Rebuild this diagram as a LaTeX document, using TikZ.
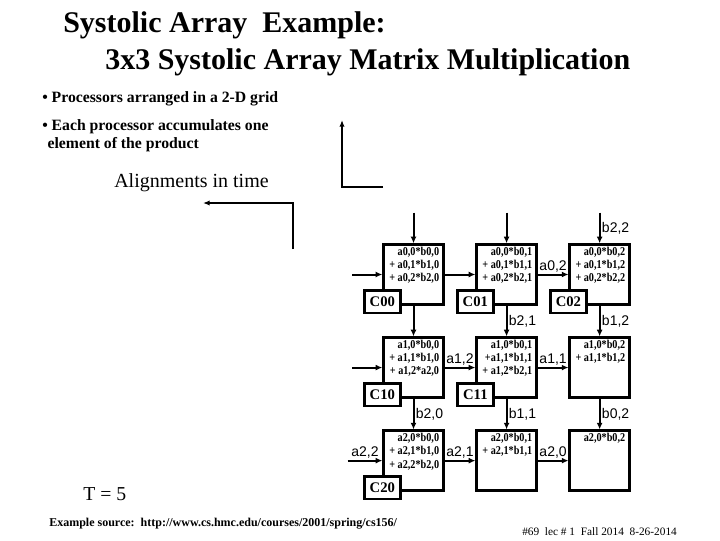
\documentclass[tikz,border=0pt]{standalone}
\usepackage{fontspec}
\setmainfont{Liberation Serif}
\setsansfont{Liberation Sans}
\newfontfamily\narrowserif[FakeStretch=0.85]{Liberation Serif}
\usepackage{tikz}
\usetikzlibrary{arrows.meta, positioning}
\tikzset{
  ttl/.style={anchor=base west, inner sep=0pt, font=\bfseries\fontsize{22.5}{27}\selectfont},
  bul/.style={anchor=base west, inner sep=0pt, align=left, font=\bfseries\fontsize{11.8}{12.75}\selectfont},
  note/.style={anchor=base west, inner sep=0pt},
  proc/.style={rectangle, draw, line width=1.8pt, minimum width=45pt, minimum height=45pt, inner sep=0pt},
  fml/.style={align=right, inner sep=0.5pt, font=\narrowserif\bfseries\fontsize{9}{10}\selectfont},
  cbox/.style={rectangle, draw, fill=white, line width=1.8pt, minimum width=27pt, minimum height=17pt, inner sep=1pt, font=\bfseries\fontsize{11}{11}\selectfont},
  lbl/.style={inner sep=1pt, font=\sffamily\fontsize{10.5}{10.5}\selectfont},
  arr/.style={-{Latex[length=5pt, width=4.5pt]}, line width=1.5pt},
  elbow/.style={-{Latex[length=5pt, width=4pt]}, line width=1.6pt},
}

\begin{document}
\begin{tikzpicture}[x=0.75pt, y=-0.75pt, node distance=23pt]
  \useasboundingbox (0,0) rectangle (720,540);

  % heading and bullets
  \node[ttl] (ttl1) at (63,32) {Systolic Array\ \ Example:};
  \node[ttl] (ttl2) at (105,69) {3x3 Systolic Array Matrix Multiplication};
  \node[bul] (bul1) at (42,102) {\textbullet\ Processors arranged in a 2-D grid};
  \node[bul, anchor=north west] (bul2) at (42,119) {\textbullet\ Each processor accumulates one\\[1pt]\hspace*{4pt}element of the product};
  \node[note, font=\fontsize{15}{15}\selectfont] (align) at (114,187) {Alignments in time};

  % alignment arrows
  \coordinate (u1) at (383,187);
  \coordinate (u2) at (342,187);
  \coordinate (u3) at (342,120);
  \draw[elbow] (u1) -- (u2) -- (u3);
  \coordinate (v1) at (293,249);
  \coordinate (v2) at (293,203);
  \coordinate (v3) at (203,203);
  \draw[elbow] (v1) -- (v2) -- (v3);

  % processor grid
  \node[proc] (p00) at (413.5,274.5) {};
  \node[proc, right=of p00] (p01) {};
  \node[proc, right=of p01] (p02) {};
  \node[proc, below=of p00] (p10) {};
  \node[proc, right=of p10] (p11) {};
  \node[proc, right=of p11] (p12) {};
  \node[proc, below=of p10] (p20) {};
  \node[proc, right=of p20] (p21) {};
  \node[proc, right=of p21] (p22) {};

  % partial sums
  \node[fml, below left=2pt and 3.5pt of p00.north east] (f00) {a0,0*b0,0\\+ a0,1*b1,0\\+ a0,2*b2,0};
  \node[fml, below left=2pt and 3.5pt of p01.north east] (f01) {a0,0*b0,1\\+ a0,1*b1,1\\+ a0,2*b2,1};
  \node[fml, below left=2pt and 3.5pt of p02.north east] (f02) {a0,0*b0,2\\+ a0,1*b1,2\\+ a0,2*b2,2};
  \node[fml, below left=2pt and 3.5pt of p10.north east] (f10) {a1,0*b0,0\\+ a1,1*b1,0\\+ a1,2*a2,0};
  \node[fml, below left=2pt and 3.5pt of p11.north east] (f11) {a1,0*b0,1\\+a1,1*b1,1\\+ a1,2*b2,1};
  \node[fml, below left=2pt and 3.5pt of p12.north east] (f12) {a1,0*b0,2\\+ a1,1*b1,2};
  \node[fml, below left=2pt and 3.5pt of p20.north east] (f20) {a2,0*b0,0\\+ a2,1*b1,0\\+ a2,2*b2,0};
  \node[fml, below left=2pt and 3.5pt of p21.north east] (f21) {a2,0*b0,1\\+ a2,1*b1,1};
  \node[fml, below left=2pt and 3.5pt of p22.north east] (f22) {a2,0*b0,2};

  % inputs from top and left
  \coordinate[above=23pt of p00] (t0);
  \coordinate[above=23pt of p01] (t1);
  \coordinate[above=23pt of p02] (t2);
  \coordinate[left=22.5pt of p00] (l0);
  \coordinate[left=22.5pt of p10] (l1);
  \coordinate[left=26pt of p20] (l2);
  \draw[arr] (t0) -- (p00);
  \draw[arr] (t1) -- (p01);
  \draw[arr] (t2) -- node[lbl, right] {b2,2} (p02);
  \draw[arr] (l0) -- (p00);
  \draw[arr] (l1) -- (p10);
  \draw[arr] (l2) -- node[lbl, above] {a2,2} (p20);

  % a values moving right
  \draw[arr] (p00) -- (p01);
  \draw[arr] (p01) -- node[lbl, above] {a0,2} (p02);
  \draw[arr] (p10) -- node[lbl, above] {a1,2} (p11);
  \draw[arr] (p11) -- node[lbl, above] {a1,1} (p12);
  \draw[arr] (p20) -- node[lbl, above] {a2,1} (p21);
  \draw[arr] (p21) -- node[lbl, above] {a2,0} (p22);

  % b values moving down
  \draw[arr] (p00) -- (p10);
  \draw[arr] (p01) -- node[lbl, right] {b2,1} (p11);
  \draw[arr] (p02) -- node[lbl, right] {b1,2} (p12);
  \draw[arr] (p10) -- node[lbl, right] {b2,0} (p20);
  \draw[arr] (p11) -- node[lbl, right] {b1,1} (p21);
  \draw[arr] (p12) -- node[lbl, right] {b0,2} (p22);

  % result tags
  \node[cbox] (c00) at ([yshift=3pt]p00.south west) {C00};
  \node[cbox] (c01) at ([yshift=3pt]p01.south west) {C01};
  \node[cbox] (c02) at ([yshift=3pt]p02.south west) {C02};
  \node[cbox] (c10) at ([yshift=3pt]p10.south west) {C10};
  \node[cbox] (c11) at ([yshift=3pt]p11.south west) {C11};
  \node[cbox] (c20) at ([yshift=3pt]p20.south west) {C20};

  % footer
  \node[note, font=\fontsize{14.8}{15}\selectfont] (tnow) at (83,500) {T = 5};
  \node[note, font=\bfseries\fontsize{9}{9}\selectfont] (src) at (49,526) {Example source:\ \ http://www.cs.hmc.edu/courses/2001/spring/cs156/};
  \node[note, font=\fontsize{8.5}{8.5}\selectfont] (foot) at (522,535) {\#69\ \ lec \# 1\ \ Fall 2014\ \ 8-26-2014};
\end{tikzpicture}
\end{document}
